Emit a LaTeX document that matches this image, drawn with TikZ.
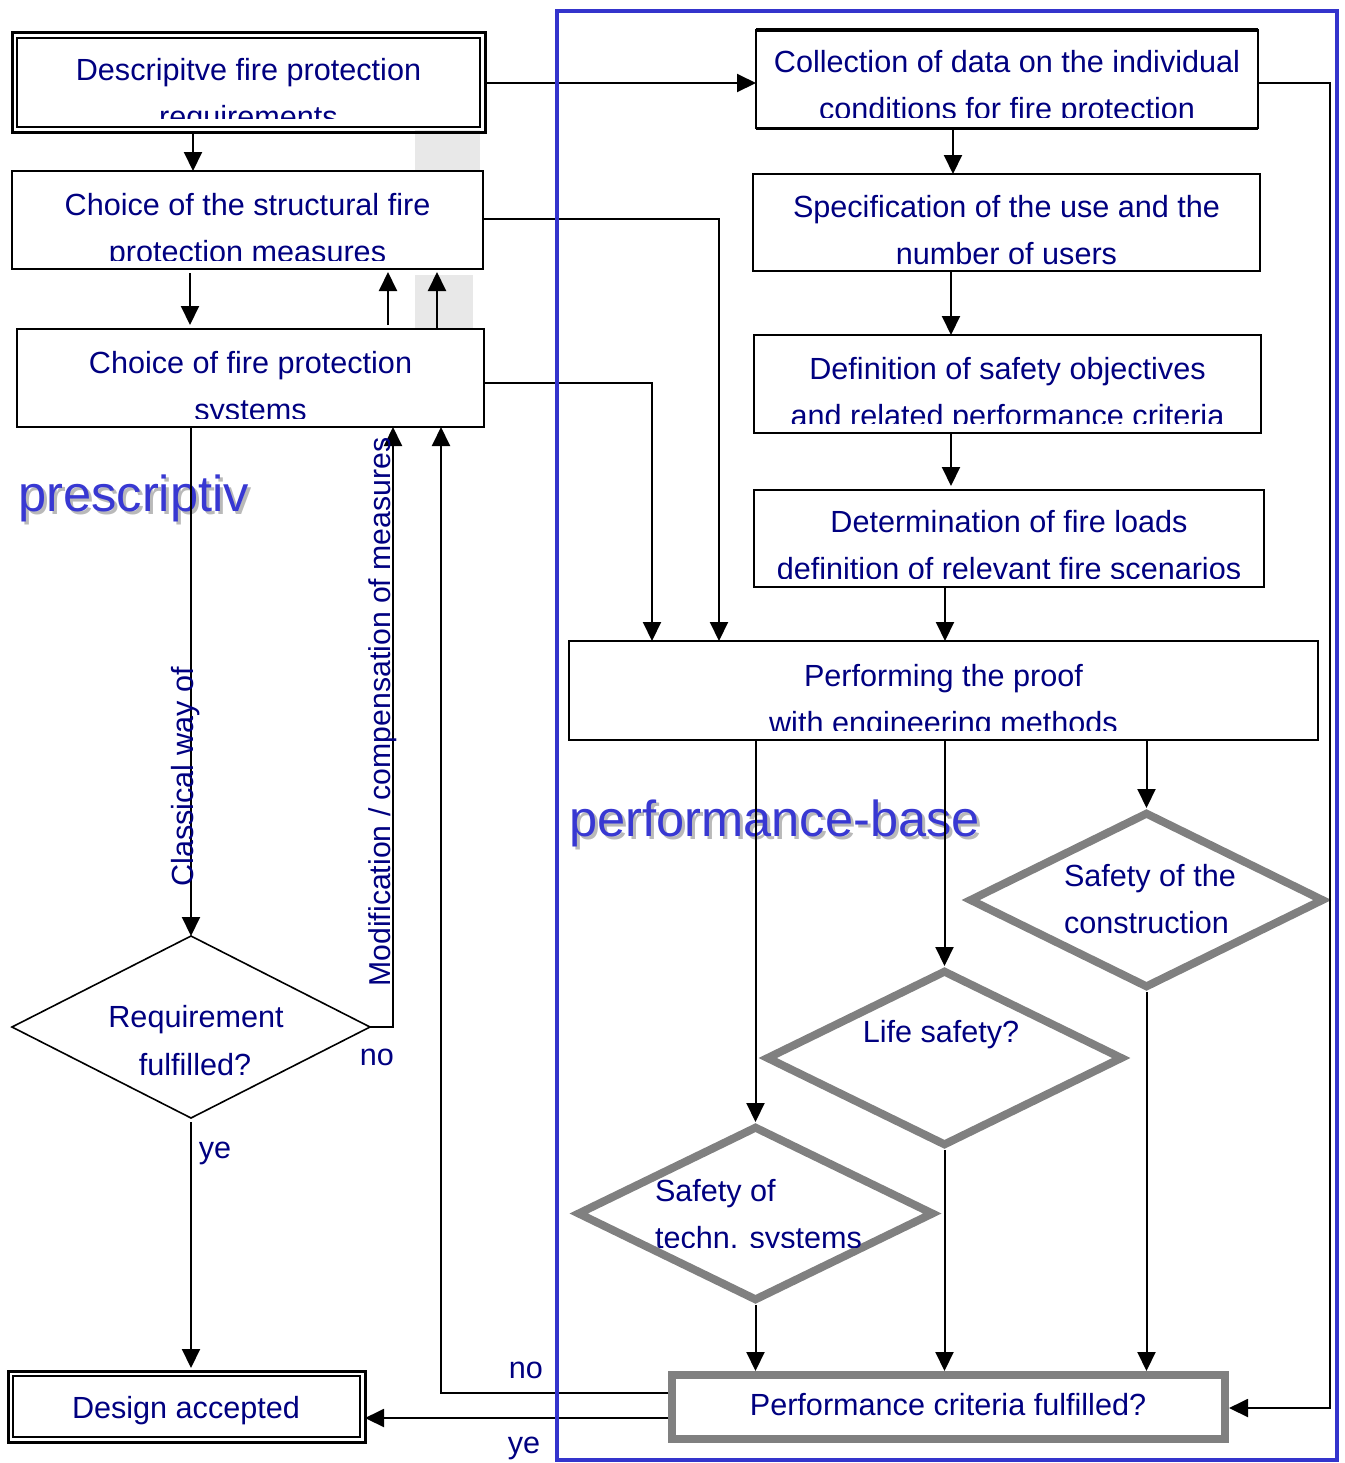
\documentclass[tikz,border=0pt]{standalone}
\usepackage{fontspec}
\setmainfont{Liberation Sans}
\usetikzlibrary{arrows.meta,shapes.geometric,calc}
\definecolor{navy}{RGB}{0,0,128}
\definecolor{frameblue}{RGB}{52,52,204}
\definecolor{bigblue}{RGB}{56,56,210}
\definecolor{dgray}{RGB}{128,128,128}
\definecolor{lgray}{RGB}{232,232,232}
\definecolor{shgray}{RGB}{185,185,185}
\newcommand{\rectnode}[6]{\node[#6, minimum width={(#4-#2)*0.5pt}, minimum height={(#5-#3)*0.5pt}] (#1) at ({(#2+#4)/2},{(#3+#5)/2}) {};}
\newcommand{\twoline}[7]{%
  \node[txt] (#1a) at (#2,#3) {#6};
  \begin{scope}
    \clip ({#2-400},#3) rectangle ({#2+400},#5);
    \node[txt] (#1b) at (#2,#4) {#7};
  \end{scope}}
\begin{document}
\begin{tikzpicture}[x=0.5pt,y=-0.5pt,
  txt/.style={text=navy, font=\fontsize{15.3}{18}\selectfont, inner sep=0pt, outer sep=0pt, anchor=base},
  txtw/.style={txt, anchor=base west},
  rtxt/.style={txt, rotate=90},
  big/.style={font=\fontsize{25.3}{30}\selectfont, inner sep=0pt, anchor=base west},
  box/.style={draw=black, line width=1pt, inner sep=0pt, outer sep=0pt},
  gbox/.style={draw=dgray, line width=4pt, inner sep=0pt, outer sep=2pt},
  gdia/.style={diamond, draw=dgray, line width=4pt, inner sep=0pt, outer sep=2pt},
  bdia/.style={diamond, draw=black, line width=0.8pt, inner sep=0pt, outer sep=0pt},
  conn/.style={draw=black, line width=1pt},
  arr/.style={conn, -{Triangle[length=9.5pt,width=9pt]}},
]
\useasboundingbox (0,0) rectangle (1345,1463);

% light gray patches
\fill[lgray] (415,130) rectangle (480,172);
\fill[lgray] (415,275) rectangle (473,329);

% left boxes
\rectnode{b1}{12}{32}{485}{132}{box, line width=1.5pt}
\rectnode{b1i}{17}{38}{480}{127}{box}
\rectnode{b2}{12}{171}{483}{269}{box}
\rectnode{b3}{17}{329}{484}{427}{box}
\rectnode{da}{8}{1371}{365}{1442}{box, line width=1.5pt}
\rectnode{dai}{13}{1376}{360}{1437}{box}
\node[bdia, minimum width={358*0.5pt}, minimum height={182*0.5pt}] (dR) at (191,1027) {};

% right boxes
\rectnode{col}{756}{30}{1258}{128}{box}
\draw[line width=2pt] (col.north west) -- (col.north east);
\draw[line width=1.5pt] (col.south west) -- (col.south east);
\rectnode{spec}{753}{174}{1260}{271}{box}
\rectnode{def}{754}{335}{1261}{433}{box}
\rectnode{det}{754}{490}{1264}{587}{box}
\rectnode{perfm}{569}{641}{1318}{740}{box}
\rectnode{perf}{672}{1375}{1225}{1439}{gbox}
\node[gdia, minimum width={355*0.5pt}, minimum height={176*0.5pt}] (dC) at (1146.5,900) {};
\node[gdia, minimum width={357*0.5pt}, minimum height={176*0.5pt}] (dL) at (944.5,1058) {};
\node[gdia, minimum width={357*0.5pt}, minimum height={175*0.5pt}] (dT) at (755.5,1213.5) {};

% texts in boxes
\twoline{t1}{248.5}{80}{127}{118}{Descripitve fire protection}{requirements}
\twoline{t2}{247.5}{215}{262}{260}{Choice of the structural fire}{protection measures}
\twoline{t3}{250.5}{373}{420}{418}{Choice of fire protection}{systems}
\twoline{t4}{1007}{72}{119}{117}{Collection of data on the individual}{conditions for fire protection}
\twoline{t5}{1006.5}{217}{264}{268}{Specification of the use and the}{number of users}
\twoline{t6}{1007.5}{379}{426}{423}{Definition of safety objectives}{and related performance criteria}
\twoline{t7}{1009}{532}{579}{578}{Determination of fire loads}{definition of relevant fire scenarios}
\twoline{t8}{943.5}{686}{733}{730}{Performing the proof}{with engineering methods}
\node[txt] (tda) at (186,1418) {Design accepted};
\node[txt] (tpc) at (948,1415) {Performance criteria fulfilled?};
\node[txt] (tr1) at (196,1027) {Requirement};
\node[txt] (tr2) at (195,1075) {fulfilled?};
\node[txtw] (tc1) at (1064,886) {Safety of the};
\node[txtw] (tc2) at (1064,933) {construction};
\node[txt] (tl1) at (941,1042) {Life safety?};
\node[txtw] (ts1) at (655,1201) {Safety of};
\begin{scope}
  \clip (600,1150) rectangle (930,1247);
  \node[txtw] (ts2) at (655,1248) {techn. systems};
\end{scope}

% big labels
\node[big, text=shgray] (pshadow) at (21,514) {prescriptiv};
\node[big, text=bigblue] (presc) at (18,511) {prescriptiv};
\node[big, text=shgray] (bshadow) at (572,839) {performance-base};
\node[big, text=bigblue] (perfbase) at (569,836) {performance-base};

% connectors, left side
\draw[arr] (b1.south -| 193,0) -- (b2.north -| 193,0);
\draw[arr, shorten <=2pt, shorten >=2pt] (b2.south -| 190,0) -- (b3.north -| 190,0);
\draw[arr, shorten <=2pt, shorten >=1.5pt] (b3.north -| 388,0) -- (b2.south -| 388,0);
\draw[arr, shorten >=1.5pt] (b3.north -| 437,0) -- (b2.south -| 437,0);
\draw[arr] (b3.south -| 191,0) -- (dR.north);
\draw[arr] (dR.east) -- (dR.east -| 393,0) -- (b3.south -| 393,0);
\draw[arr, shorten <=2pt, shorten >=1.5pt] (dR.south) -- (da.north -| dR.south);
\draw[arr] (perf.west |- 0,1393) -| (b3.south -| 441,0);
\draw[arr] (perf.west |- 0,1418) -- (da.east |- 0,1418);
\node[rtxt] (lclass) at (193,777) {Classical way of};
\node[rtxt, font=\fontsize{15.1}{18}\selectfont] (lmod) at (390,712) {Modification / compensation of measures};
\node[txt] (lno1) at (377,1065) {no};
\node[txt] (lye1) at (215,1158) {ye};
\node[txt] (lno2) at (526,1378) {no};
\node[txt] (lye2) at (524,1453) {ye};

% connectors, right side
\draw[arr] (b1.east |- 0,83) -- (col.west |- 0,83);
\draw[arr] (b2.east |- 0,219) -| (perfm.north -| 719,0);
\draw[arr] (b3.east |- 0,383) -| (perfm.north -| 652,0);
\draw[arr] (col.south -| 953,0) -- (spec.north -| 953,0);
\draw[arr] (spec.south -| 951,0) -- (def.north -| 951,0);
\draw[arr, shorten >=2pt] (def.south -| 951,0) -- (det.north -| 951,0);
\draw[arr] (det.south -| 945,0) -- (perfm.north -| 945,0);
\coordinate (rc) at (1330,1408);
\draw[arr] (col.east |- 0,83) -| (rc) -- (perf.east |- rc);
\draw[arr] (perfm.south -| dT.north) -- (dT.north);
\draw[arr] (perfm.south -| dL.north) -- (dL.north);
\draw[arr] (perfm.south -| dC.north) -- (dC.north);
\draw[arr] (dT.south) -- (perf.north -| dT.south);
\draw[arr] (dL.south) -- (perf.north -| dL.south);
\draw[arr] (dC.south) -- (perf.north -| dC.south);

% blue frame
\rectnode{frame}{557}{11}{1337}{1460}{draw=frameblue, line width=2pt, inner sep=0pt, outer sep=0pt}
\end{tikzpicture}
\end{document}
